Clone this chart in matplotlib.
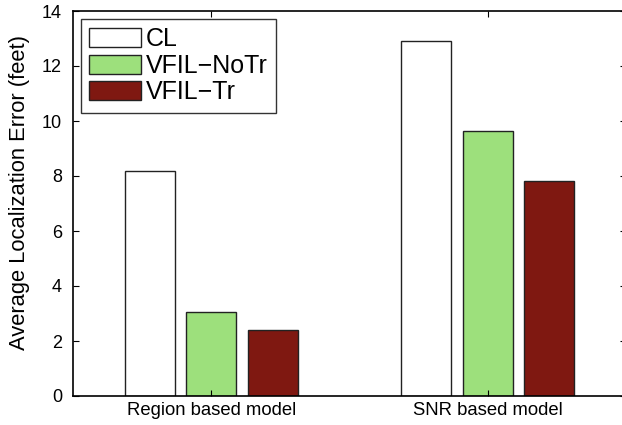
import numpy as np
from matplotlib import pyplot as plt

groups = ['Region based model', 'SNR based model']
methods = ['CL', 'VFIL\u2212NoTr', 'VFIL\u2212Tr']
cl = [8.2, 12.9]
vfil_notr = [3.05, 9.65]
vfil_tr = [2.4, 7.82]
colors = ['white', '#9de07c', '#7f1811']

plt.rcParams['font.family'] = ['Liberation Sans', 'DejaVu Sans']

fig = plt.figure(figsize=(6.22, 4.25), dpi=100)
ax = fig.add_axes([73/622, 1 - 396/425, 553/622, 385/425])

x = np.arange(1, len(groups) + 1)
width = 0.18
step = 0.222
for i, (vals, c, lab) in enumerate(zip([cl, vfil_notr, vfil_tr], colors, methods)):
    ax.bar(x + (i - 1) * step, vals, width, color=c, edgecolor='#222222',
           linewidth=1.0, label=lab)

ax.set_xlim(0.5, 2.5)
ax.set_ylim(0, 14)
ax.set_yticks(np.arange(0, 15, 2))
ax.set_xticks(x)
ax.set_xticklabels(groups, fontsize=13.3)
ax.tick_params(axis='y', labelsize=13, direction='in', right=True, length=4, pad=8)
ax.tick_params(axis='x', direction='in', top=True, length=4, pad=4)
ax.set_ylabel('Average Localization Error (feet)', fontsize=15.8)
ax.yaxis.set_label_coords(-0.077, 0.528)
for s in ax.spines.values():
    s.set_linewidth(1.2)

leg = ax.legend(loc='upper left', fontsize=18, frameon=True, fancybox=False,
                edgecolor='black', handlelength=2.05, handleheight=0.8,
                handletextpad=0.2, borderpad=0.35, labelspacing=0.1,
                borderaxespad=0.3)
leg.get_frame().set_linewidth(1.0)

fig.savefig('out.png', dpi=100)
